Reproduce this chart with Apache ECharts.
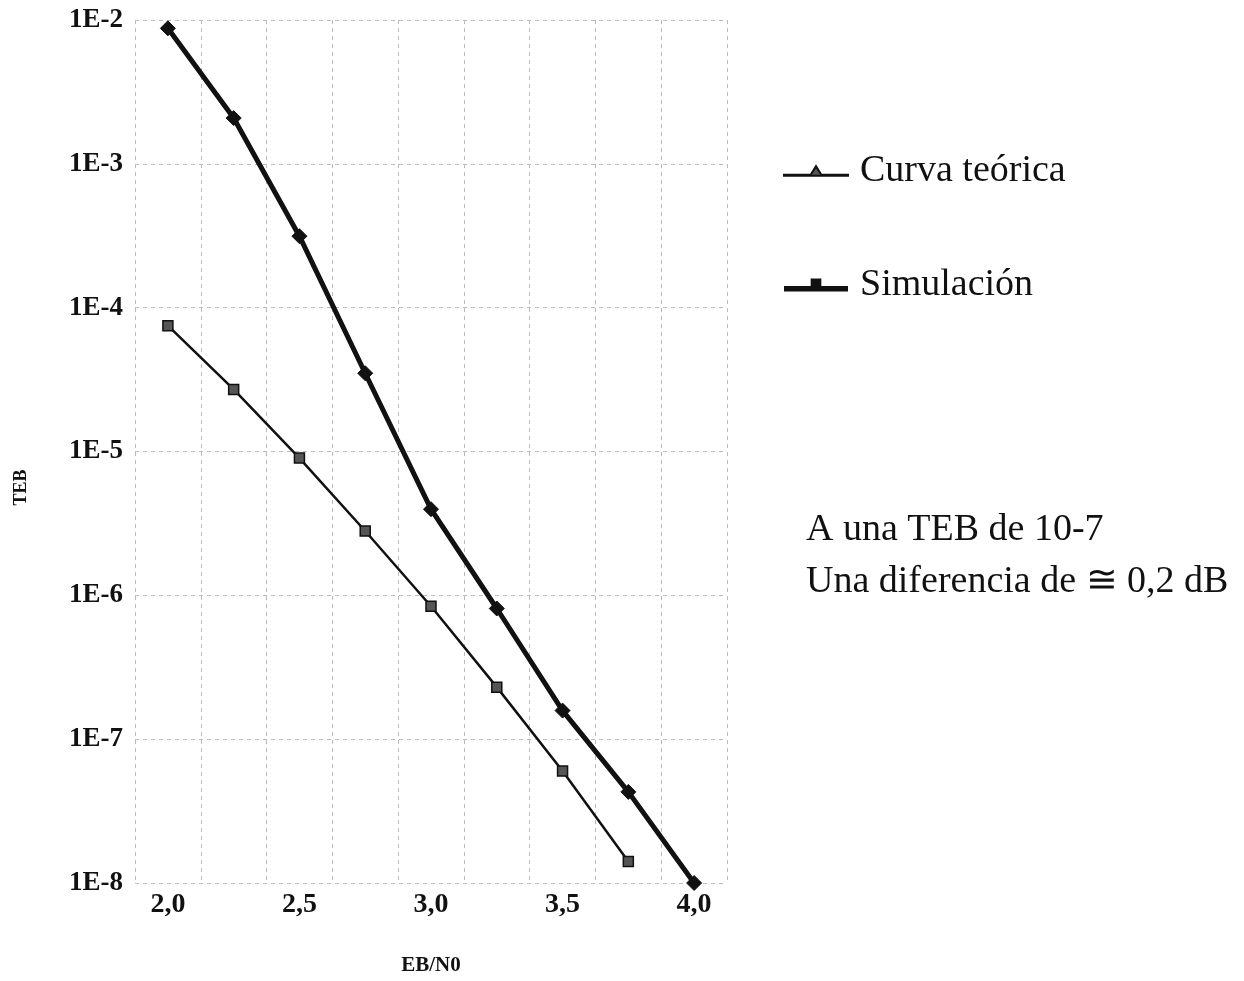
<!DOCTYPE html>
<html>
<head>
<meta charset="utf-8">
<title>TEB vs EB/N0</title>
<script src="https://cdn.jsdelivr.net/npm/echarts@6/dist/echarts.min.js"></script>
<style>
	html, body { margin: 0; padding: 0; background: #fff; }
	#chart { width: 1244px; height: 981px; }
</style>
</head>
<body>
<div id="chart"></div>
<script>
// EB/N0 (dB)
var ebno = [2.0, 2.25, 2.5, 2.75, 3.0, 3.25, 3.5, 3.75, 4.0];
// curva teórica (linea fina, cuadrados)
var tebTeorica = [7.5e-5, 2.7e-5, 9.0e-6, 2.8e-6, 8.4e-7, 2.3e-7, 6.0e-8, 1.41e-8];
// simulación (linea gruesa)
var tebSimulacion = [8.75e-3, 2.08e-3, 3.14e-4, 3.5e-5, 3.97e-6, 8.1e-7, 1.58e-7, 4.3e-8, 1.0e-8];
var xTicks = ['2,0', '2,5', '3,0', '3,5', '4,0'];
var notaLineas = ['A una TEB de 10-7', 'Una diferencia de ≅ 0,2 dB'];

var serif = "'Liberation Serif', 'Times New Roman', serif";

function pares(xs, ys) {
	var out = [];
	for (var i = 0; i < ys.length; i++) out.push([xs[i], ys[i]]);
	return out;
}

var myChart = echarts.init(document.getElementById('chart'));
var option = {
	backgroundColor: '#fff',
	animation: false,
	grid: { left: 135, right: 517, top: 20, bottom: 96 },
	legend: {
		orient: 'vertical',
		left: 778,
		top: 144,
		itemWidth: 64,
		itemHeight: 13,
		itemGap: 70,
		textStyle: { fontFamily: serif, fontSize: 38, lineHeight: 44, color: '#111', padding: [0, 0, 0, 7] },
		data: [
			{ name: 'Curva teórica', icon: 'path://M0,8 L25,8 L30,0 L35,8 L60,8 L60,9 L0,9 Z', itemStyle: { color: '#555' } },
			{ name: 'Simulación', icon: 'path://M0,7 L25,7 L25,0 L35,0 L35,7 L60,7 L60,12 L0,12 Z', itemStyle: { color: '#111' } }
		]
	},
	xAxis: [
		{
			type: 'value',
			min: 1.875,
			max: 4.125,
			interval: 0.125,
			name: 'EB/N0',
			nameLocation: 'middle',
			nameGap: 72,
			nameTextStyle: { fontFamily: serif, fontSize: 21, fontWeight: 'bold', color: '#111' },
			axisLine: { show: false },
			axisTick: { show: false },
			splitLine: { show: false },
			axisLabel: {
				margin: 8,
				fontFamily: serif,
				fontSize: 28,
				fontWeight: 'bold',
				color: '#111',
				formatter: function (v) {
					var k = Math.round((v - 2) * 2);
					if (Math.abs((v - 2) * 2 - k) > 1e-6) return '';
					return xTicks[k] || '';
				}
			}
		},
		{
			type: 'value',
			min: 1.875,
			max: 4.125,
			interval: 0.25,
			position: 'bottom',
			axisLine: { show: false },
			axisTick: { show: false },
			axisLabel: { show: false },
			splitLine: { show: true, lineStyle: { color: '#bbb', type: [4, 4], width: 1 } }
		}
	],
	yAxis: {
		type: 'log',
		logBase: 10,
		min: 1e-8,
		max: 1e-2,
		splitNumber: 6,
		name: 'TEB',
		nameLocation: 'middle',
		nameGap: 105,
		nameTextStyle: { fontFamily: serif, fontSize: 18, fontWeight: 'bold', color: '#111', padding: [0, 72, 0, 0] },
		axisLine: { show: false },
		axisTick: { show: false },
		splitLine: { show: true, lineStyle: { color: '#bbb', type: [4, 4], width: 1 } },
		axisLabel: {
			margin: 12,
			fontFamily: serif,
			fontSize: 27,
			fontWeight: 'bold',
			color: '#111',
			formatter: function (v) {
				return '1E' + Math.round(Math.log10(v));
			}
		}
	},
	graphic: [
		{
			type: 'text',
			left: 806,
			top: 504,
			style: {
				text: notaLineas.join('\n'),
				font: '38px ' + serif,
				lineHeight: 52,
				fill: '#111'
			}
		}
	],
	series: [
		{
			name: 'Curva teórica',
			type: 'line',
			xAxisIndex: 0,
			data: pares(ebno, tebTeorica),
			symbol: 'rect',
			symbolSize: 10,
			lineStyle: { color: '#111', width: 2.5 },
			itemStyle: { color: '#555', borderColor: '#111', borderWidth: 1.5 }
		},
		{
			name: 'Simulación',
			type: 'line',
			xAxisIndex: 0,
			data: pares(ebno, tebSimulacion),
			symbol: 'diamond',
			symbolSize: 15,
			lineStyle: { color: '#111', width: 5 },
			itemStyle: { color: '#111', borderColor: '#111' }
		}
	]
};
myChart.setOption(option);
</script>
</body>
</html>
